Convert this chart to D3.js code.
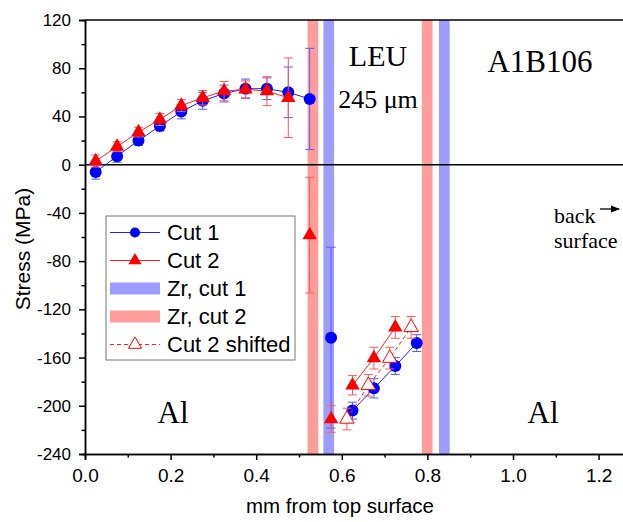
<!DOCTYPE html>
<html>
<head>
<meta charset="utf-8">
<script src="https://cdn.jsdelivr.net/npm/d3@7"></script>
<style>
  body { margin: 0; background: #fff; }
  svg text { font-family: "Liberation Sans", Arial, sans-serif; fill: #000; }
  svg text.serif { font-family: "Liberation Serif", "Times New Roman", serif; }
</style>
</head>
<body>
<svg id="chart" width="623" height="522"></svg>
<script>
// Cut 1 (blue circles), seg = which points are joined by a line
var cut1X   = [0.025, 0.075, 0.125, 0.175, 0.225, 0.275, 0.325, 0.375, 0.425, 0.475, 0.525, 0.575, 0.625, 0.675, 0.725, 0.775];
var cut1Y   = [-6, 7, 20, 32, 44, 53, 59, 63, 63, 60, 54.5, -143.5, -204, -185.5, -167, -148];
var cut1Err = [6, 5, 4, 4, 6, 7, 7, 8, 9, 21, 42, 75, 7, 8, 7, 7];
var cut1Seg = [0, 0, 0, 0, 0, 0, 0, 0, 0, 0, 0, 1, 2, 2, 2, 2];

// Cut 2 (red triangles)
var cut2X   = [0.025, 0.075, 0.125, 0.175, 0.225, 0.275, 0.325, 0.375, 0.425, 0.475, 0.525, 0.575, 0.625, 0.675, 0.725];
var cut2Y   = [3, 15, 27, 37.5, 49, 55.5, 61, 62.5, 61, 55.5, -58.5, -211, -183, -160.5, -135];
var cut2Err = [5, 4, 4, 5, 5, 6, 8, 7, 12, 33, 48, 11, 8, 9, 9];
var cut2Seg = [0, 0, 0, 0, 0, 0, 0, 0, 0, 0, 1, 2, 3, 3, 3];

// Cut 2 shifted (open red triangles)
var shiftX   = [0.612, 0.662, 0.712, 0.762];
var shiftY   = [-211, -183, -160.5, -135];
var shiftErr = [9, 9, 9, 9];

// Zr layers, mm from top surface
var zrCut1From = [0.557, 0.827];
var zrCut1To   = [0.582, 0.852];
var zrCut2From = [0.520, 0.787];
var zrCut2To   = [0.545, 0.812];

var xTicks = [0, 0.2, 0.4, 0.6, 0.8, 1.0, 1.2];
var yTicks = [-240, -200, -160, -120, -80, -40, 0, 40, 80, 120];

var blue = "#0000ff", red = "#ff0000",
    blueBand = "#9d9dff", redBand = "#ff9d9d";

var svg = d3.select("#chart");

var x = d3.scaleLinear().domain([0, 1.26]).range([85, 85 + 1.26 * 428]);
var y = d3.scaleLinear().domain([-240, 120]).range([454, 20]);

function rows(xs, ys, es, seg) {
  return xs.map(function(v, i) {
    return { x: v, y: ys[i], e: es[i], seg: seg ? seg[i] : 0 };
  });
}

var cut1 = rows(cut1X, cut1Y, cut1Err, cut1Seg),
    cut2 = rows(cut2X, cut2Y, cut2Err, cut2Seg),
    shifted = rows(shiftX, shiftY, shiftErr);

// ****************** bands ***************************
var bands = zrCut2From.map(function(d, i) { return { a: d, b: zrCut2To[i], c: redBand }; })
  .concat(zrCut1From.map(function(d, i) { return { a: d, b: zrCut1To[i], c: blueBand }; }));

svg.append("g").selectAll("rect")
    .data(bands)
  .enter().append("rect")
    .attr("x", function(d) { return x(d.a); })
    .attr("width", function(d) { return x(d.b) - x(d.a); })
    .attr("y", y(120))
    .attr("height", y(-240) - y(120))
    .style("fill", function(d) { return d.c; });

// zero line
svg.append("line")
    .attr("x1", x(0)).attr("x2", x(1.26))
    .attr("y1", y(0)).attr("y2", y(0))
    .style("stroke", "#000").style("stroke-width", 1.5);

// ****************** axes ***************************
var xAxis = svg.append("g").attr("transform", "translate(0," + y(-240) + ")")
    .call(d3.axisBottom(x).tickValues(xTicks).tickSize(6).tickPadding(9)
      .tickFormat(function(d) { return d.toFixed(1); }));
svg.append("g").attr("transform", "translate(0," + y(-240) + ")")
    .call(d3.axisBottom(x).tickValues(d3.range(0.1, 1.3, 0.2)).tickSize(3.5).tickFormat(""));

var yAxis = svg.append("g").attr("transform", "translate(" + x(0) + ",0)")
    .call(d3.axisLeft(y).tickValues(yTicks).tickSize(6).tickPadding(8)
      .tickFormat(function(d) { return String(d); }));
svg.append("g").attr("transform", "translate(" + x(0) + ",0)")
    .call(d3.axisLeft(y).tickValues(d3.range(-220, 120, 40)).tickSize(3.5).tickFormat(""));

svg.selectAll(".domain").style("stroke-width", 1.5);
svg.selectAll(".tick line").style("stroke-width", 1.5);
xAxis.selectAll("text").style("font-size", "19px").style("font-family", "Liberation Sans");
yAxis.selectAll("text").style("font-size", "17px").style("font-family", "Liberation Sans");

// top frame
svg.append("line")
    .attr("x1", x(0)).attr("x2", x(1.26))
    .attr("y1", y(120)).attr("y2", y(120))
    .style("stroke", "#000").style("stroke-width", 1.5);

svg.append("text")
    .attr("x", 340).attr("y", 513)
    .attr("text-anchor", "middle")
    .style("font-size", "20.5px")
    .text("mm from top surface");

svg.append("text")
    .attr("transform", "translate(30,249) rotate(-90)")
    .attr("text-anchor", "middle")
    .style("font-size", "21px")
    .text("Stress (MPa)");

// ****************** series ***************************
var line = d3.line()
    .x(function(d) { return x(d.x); })
    .y(function(d) { return y(d.y); });

function drawSeries(data, color, barColor, dash) {
  var g = svg.append("g");

  // error bars
  var eb = g.selectAll("g.err").data(data).enter().append("g")
      .style("stroke", barColor).style("stroke-width", 1);
  eb.append("line")
      .attr("x1", function(d) { return x(d.x); })
      .attr("x2", function(d) { return x(d.x); })
      .attr("y1", function(d) { return y(d.y + d.e); })
      .attr("y2", function(d) { return y(d.y - d.e); });
  [1, -1].forEach(function(s) {
    eb.append("line")
        .attr("x1", function(d) { return x(d.x) - 4.5; })
        .attr("x2", function(d) { return x(d.x) + 4.5; })
        .attr("y1", function(d) { return y(d.y + s * d.e); })
        .attr("y2", function(d) { return y(d.y + s * d.e); });
  });

  // one path for each joined segment
  var segs = Array.from(d3.group(data, function(d) { return d.seg; }).values())
      .filter(function(s) { return s.length > 1; });
  g.selectAll("path.link").data(segs).enter().append("path")
      .attr("class", "link")
      .attr("d", line)
      .style("fill", "none")
      .style("stroke", color)
      .style("stroke-width", 1)
      .style("stroke-dasharray", dash);
  return g;
}

var g1 = drawSeries(cut1, "#2020ff", "#5a5aff", null);
g1.selectAll("circle").data(cut1).enter().append("circle")
    .attr("cx", function(d) { return x(d.x); })
    .attr("cy", function(d) { return y(d.y); })
    .attr("r", 6)
    .style("fill", blue);

var tri = d3.symbol().type(d3.symbolTriangle).size(90);

var g2 = drawSeries(cut2, "#ff2020", "#ff5a5a", null);
g2.selectAll("path.sym").data(cut2).enter().append("path")
    .attr("class", "sym")
    .attr("d", tri)
    .attr("transform", function(d) { return "translate(" + x(d.x) + "," + y(d.y) + ")"; })
    .style("fill", red);

var g3 = drawSeries(shifted, "#ff2020", "#ff5a5a", "4,3");
g3.selectAll("path.sym").data(shifted).enter().append("path")
    .attr("class", "sym")
    .attr("d", tri)
    .attr("transform", function(d) { return "translate(" + x(d.x) + "," + y(d.y) + ")"; })
    .style("fill", "#fff")
    .style("stroke", red)
    .style("stroke-width", 1);

// ****************** annotations ***************************
function label(txt, px, py, size, anchor) {
  return svg.append("text").attr("class", "serif")
      .attr("x", px).attr("y", py)
      .attr("text-anchor", anchor || "middle")
      .style("font-size", size + "px")
      .text(txt);
}

label("LEU", 378, 66, 30);
label("245 \u03bcm", 378, 108, 26);
label("A1B106", 540, 72, 31);
label("Al", 173, 423, 31);
label("Al", 543, 423, 31);
label("back", 554, 223, 22, "start");
label("surface", 554, 248, 22, "start");

svg.append("defs").append("marker")
    .attr("id", "arrow")
    .attr("viewBox", "0 0 10 10")
    .attr("refX", 9).attr("refY", 5)
    .attr("markerWidth", 7).attr("markerHeight", 7)
    .attr("orient", "auto")
  .append("path")
    .attr("d", "M0,1 L10,5 L0,9 Z")
    .style("fill", "#000");

svg.append("line")
    .attr("x1", 600).attr("x2", 619)
    .attr("y1", 209).attr("y2", 209)
    .style("stroke", "#000").style("stroke-width", 1.3)
    .attr("marker-end", "url(#arrow)");

// ****************** legend ***************************
var legendItems = ["Cut 1", "Cut 2", "Zr, cut 1", "Zr, cut 2", "Cut 2 shifted"];

var legend = svg.append("g").attr("transform", "translate(106,216)");
legend.append("rect")
    .attr("width", 189).attr("height", 144)
    .style("fill", "#fff").style("stroke", "#777").style("stroke-width", 1);

var item = legend.selectAll("g.item").data(legendItems).enter().append("g")
    .attr("class", "item")
    .attr("transform", function(d, i) { return "translate(0," + (16.5 + i * 28) + ")"; });

item.append("text")
    .attr("x", 61).attr("y", 7.5)
    .style("font-size", "22px")
    .text(function(d) { return d; });

item.each(function(d, i) {
  var it = d3.select(this);
  if (i == 2 || i == 3) {
    it.append("rect")
        .attr("x", 4).attr("y", -6).attr("width", 50).attr("height", 12)
        .style("fill", i == 2 ? blueBand : redBand);
    return;
  }
  var c = i == 0 ? "#2020ff" : "#ff2020";
  it.append("line")
      .attr("x1", 4).attr("x2", 54)
      .style("stroke", c).style("stroke-width", 1)
      .style("stroke-dasharray", i == 4 ? "4,3" : null);
  if (i == 0) {
    it.append("circle").attr("cx", 29).attr("r", 5).style("fill", blue);
  } else {
    it.append("path")
        .attr("d", d3.symbol().type(d3.symbolTriangle).size(75))
        .attr("transform", "translate(29,0)")
        .style("fill", i == 4 ? "#fff" : red)
        .style("stroke", i == 4 ? red : null);
  }
});
</script>
</body>
</html>
